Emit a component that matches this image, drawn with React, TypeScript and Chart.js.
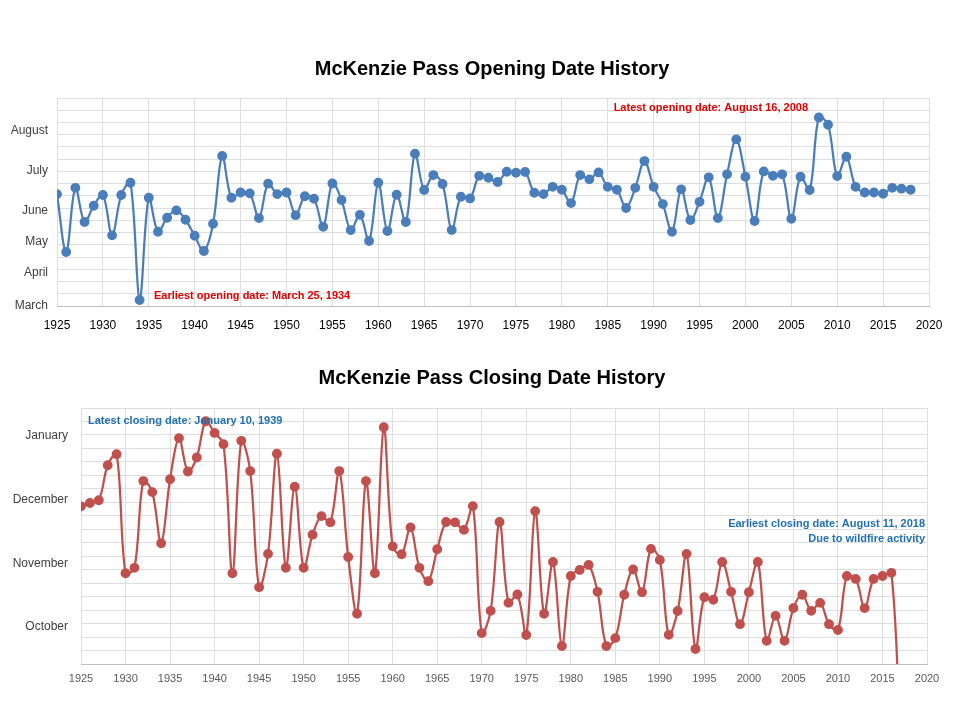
import React, { useEffect, useRef } from "react";
import { Chart, registerables } from "chart.js";
Chart.register(...registerables);

// Opening dates (day of year), 1925-2018
const openYears: number[] = Array.from({ length: 94 }, (_, i) => 1925 + i);
const openDays: number[] = [
  168.7, 122.8, 173.7, 146.6, 159.5, 168, 136, 168, 177.7, 84.75,
  165.8, 138.9, 150, 155.8, 148.4, 135.7, 123.6, 145.2, 199, 165.8,
  170, 169.3, 149.7, 177, 168.7, 170, 152, 167, 165, 142.8,
  177.2, 164, 140.2, 152.3, 131.5, 177.7, 139.4, 168.2, 146.6, 200.7,
  172, 183.8, 176.7, 140.2, 166.6, 165.3, 183.2, 181.7, 178.3, 186.4,
  185.6, 186.2, 169.8, 168.7, 174.5, 172.2, 161.6, 183.8, 180.4, 185.9,
  174.5, 172.2, 157.7, 173.7, 194.9, 174.5, 160.8, 138.9, 172.5, 148.1,
  162.6, 182, 149.7, 184.4, 212.1, 182.5, 147.4, 186.7, 183.2, 184.4,
  149.2, 182.5, 172, 229.5, 223.7, 183, 198.3, 174.5, 170, 170,
  169, 173.7, 173, 172.2,
];

// Closing dates (day count from Jan 1 of the opening year; >365 = next January)
const closeYears: number[] = Array.from({ length: 93 }, (_, i) => 1925 + i);
const closeDays: number[] = [
  334.2, 335.8, 337.1, 353.9, 359.2, 302.1, 304.7, 346.3, 341, 316.5,
  347.2, 366.9, 350.9, 357.6, 375, 369.4, 364, 302.1, 365.6, 351.1,
  295.4, 311.4, 359.4, 304.7, 343.6, 304.7, 320.6, 329.5, 326.5, 351.1,
  309.9, 282.7, 346.3, 302.1, 372.1, 315, 311.2, 324.1, 304.7, 298.3,
  313.6, 326.7, 326.5, 322.9, 334.3, 273.4, 284.1, 326.7, 287.9, 291.9,
  272.5, 331.9, 282.7, 307.5, 267.2, 300.8, 303.7, 306.1, 293.2, 267.2,
  271, 291.8, 303.9, 293, 313.8, 308.5, 272.6, 284, 311.4, 265.8,
  290.6, 289.4, 307.5, 293.2, 277.7, 293, 307.5, 269.7, 281.7, 269.7,
  285.4, 291.8, 284.1, 287.9, 277.7, 274.9, 300.8, 299.4, 285.4, 299.4,
  300.8, 302.3, 223,
];

const openMonthLabels: [number, string][] = [
  [80.01, "March"], [106.1, "April"], [130.7, "May"], [155.3, "June"], [187, "July"], [218.7, "August"],
];
const closeMonthLabels: [number, string][] = [
  [368.2, "January"], [337.5, "December"], [306.9, "November"], [276.3, "October"],
];

const FONT = "'Liberation Sans', Arial, sans-serif";

function makeChart(
  canvas: HTMLCanvasElement,
  cfg: {
    title: string; titleY: number; years: number[]; values: number[]; color: string;
    yMin: number; yStep: number; yCount: number; labels: [number, string][];
    padTop: number; axisW: number; labelPad: number; padRight: number; xAxisH: number; xPad: number; padBottom: number;
    xFont: number; xColor: string;
    notes: { text: string; x: number; y: number; align: CanvasTextAlign; color: string }[];
  }
) {
  const yMax = cfg.yMin + cfg.yStep * cfg.yCount;
  const overlay = {
    id: "overlay",
    afterDraw(chart: any) {
      const ctx = chart.ctx;
      ctx.save();
      ctx.fillStyle = "#000";
      ctx.font = `bold 20px ${FONT}`;
      ctx.textAlign = "center";
      ctx.textBaseline = "middle";
      ctx.fillText(cfg.title, 492, cfg.titleY);
      ctx.font = `bold 11px ${FONT}`;
      for (const n of cfg.notes) {
        ctx.fillStyle = n.color;
        ctx.textAlign = n.align;
        ctx.fillText(n.text, n.x, n.y);
      }
      ctx.restore();
    },
  };
  return new Chart(canvas, {
    type: "line",
    data: {
      datasets: [{
        data: cfg.years.map((y, i) => ({ x: y, y: cfg.values[i] })),
        borderColor: cfg.color,
        backgroundColor: cfg.color,
        borderWidth: 2.25,
        pointRadius: 3.8,
        pointHoverRadius: 3.8,
        tension: 0.35,
      }],
    },
    options: {
      animation: false,
      responsive: false,
      layout: { padding: { top: cfg.padTop, left: 0, right: cfg.padRight, bottom: cfg.padBottom } },
      plugins: { legend: { display: false }, tooltip: { enabled: false } },
      scales: {
        x: {
          type: "linear", min: 1925, max: 2020,
          ticks: { stepSize: 5, padding: cfg.xPad, color: cfg.xColor, font: { family: FONT, size: cfg.xFont }, maxRotation: 0, callback: (v: any) => String(v) },
          grid: { color: "#dedede", drawTicks: false },
          border: { color: "#bfbfbf" },
          afterFit: (s: any) => { s.height = cfg.xAxisH; },
        },
        y: {
          type: "linear", min: cfg.yMin, max: yMax,
          afterBuildTicks: (s: any) => {
            const t: any[] = [];
            for (let k = 0; k <= cfg.yCount; k++) t.push({ value: cfg.yMin + k * cfg.yStep });
            for (const [v] of cfg.labels) t.push({ value: v });
            t.sort((a, b) => a.value - b.value);
            s.ticks = t;
          },
          ticks: {
            autoSkip: false, padding: cfg.labelPad, color: "#404040", font: { family: FONT, size: 12 },
            callback: (v: any) => {
              const f = cfg.labels.find(([lv]) => Math.abs(lv - v) < 1e-6);
              return f ? f[1] : "";
            },
          },
          grid: {
            drawTicks: false,
            color: (c: any) => cfg.labels.some(([lv]) => Math.abs(lv - c.tick.value) < 1e-6) ? "rgba(0,0,0,0)" : "#dedede",
          },
          border: { display: false },
          afterFit: (s: any) => { s.width = cfg.axisW; },
        },
      },
    },
    plugins: [overlay],
  } as any);
}

export default function App() {
  const r1 = useRef<HTMLCanvasElement>(null);
  const r2 = useRef<HTMLCanvasElement>(null);
  useEffect(() => {
    const c1 = makeChart(r1.current!, {
      title: "McKenzie Pass Opening Date History", titleY: 69, years: openYears, values: openDays, color: "#4a7ebb",
      yMin: 80, yStep: 9.7, yCount: 17, labels: openMonthLabels,
      padTop: 98, axisW: 57, labelPad: 9, padRight: 31, xAxisH: 32, xPad: 12, padBottom: 7, xFont: 12, xColor: "#000",
      notes: [
        { text: "Earliest opening date: March 25, 1934", x: 154, y: 296, align: "left", color: "#e00000" },
        { text: "Latest opening date: August 16, 2008", x: 808, y: 108, align: "right", color: "#e00000" },
      ],
    });
    const c2 = makeChart(r2.current!, {
      title: "McKenzie Pass Closing Date History", titleY: 378 - 345, years: closeYears, values: closeDays, color: "#c0504d",
      yMin: 258.6, yStep: 6.46, yCount: 19, labels: closeMonthLabels,
      padTop: 408 - 345, axisW: 81, labelPad: 13, padRight: 33, xAxisH: 30, xPad: 8, padBottom: 375 - (664 - 345) - 30, xFont: 11, xColor: "#595959",
      notes: [
        { text: "Latest closing date: January 10, 1939", x: 88, y: 421 - 345, align: "left", color: "#1f6fb4" },
        { text: "Earliest closing date: August 11, 2018", x: 925, y: 524 - 345, align: "right", color: "#1f6fb4" },
        { text: "Due to wildfire activity", x: 925, y: 539 - 345, align: "right", color: "#1f6fb4" },
      ],
    });
    return () => { c1.destroy(); c2.destroy(); };
  }, []);
  return (
    <div style={{ position: "absolute", left: 0, top: 0, width: 960, height: 720, background: "#fff" }}>
      <canvas ref={r1} width={960} height={345} style={{ position: "absolute", left: 0, top: 0, width: 960, height: 345 }} />
      <canvas ref={r2} width={960} height={375} style={{ position: "absolute", left: 0, top: 345, width: 960, height: 375 }} />
    </div>
  );
}
